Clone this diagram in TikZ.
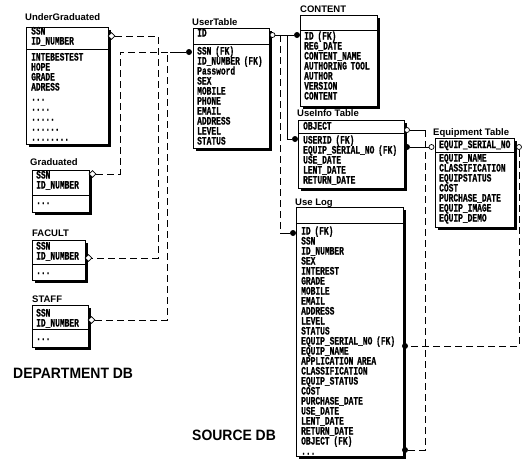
\documentclass[tikz,border=0pt]{standalone}
\usepackage{fontspec}
\setmainfont{Liberation Sans}
\newfontfamily\rowfont[FakeStretch=0.7, FakeBold=0.6]{Liberation Mono}
\newfontfamily\dbfont[FakeStretch=0.93]{Liberation Sans}
\usetikzlibrary{shapes.geometric, shadows}

\begin{document}
\begin{tikzpicture}[
    x=1pt, y=-1pt,
    tbl/.style={draw, fill=white, line width=0.8pt, anchor=north west, inner sep=0pt,
        drop shadow={shadow xshift=2.2pt, shadow yshift=-2.2pt, fill=black, opacity=1}},
    rows/.style={anchor=base west, inner sep=0pt, text width=110pt, align=left,
        font={\rowfont\bfseries\fontsize{11.3}{10}\selectfont\lineskiplimit=-10pt}},
    ttl/.style={anchor=base west, inner sep=0pt, font={\bfseries\fontsize{9.5}{10}\selectfont}},
    dblabel/.style={anchor=base west, inner sep=0pt, font={\dbfont\bfseries\fontsize{15}{15}\selectfont}},
    div/.style={line width=0.6pt},
    rel/.style={line width=0.8pt},
    drel/.style={rel, dash pattern=on 7pt off 4pt},
    one/.style={circle, draw, fill=white, line width=0.7pt, inner sep=0pt, minimum size=5pt},
    many/.style={circle, fill=black, inner sep=0pt, minimum size=6pt},
    dia/.style={diamond, draw, fill=white, line width=0.7pt, inner sep=0pt, minimum size=7pt}
]
\useasboundingbox (0,0) rectangle (530,459);

% Department DB
\node[ttl] (ugT) at (25,20.5) {UnderGraduated};
\node[tbl, minimum width=82pt, minimum height=117pt] (ug) at (26,27) {};
\node[rows] (ugH) at (31,34.5) {SSN\\ID\_NUMBER};
\draw[div] (ug.west |- 0,49) -- (ug.east |- 0,49);
\node[rows] (ugB) at (31,60.5) {INTEBESTEST\\HOPE\\GRADE\\ADRESS\\...\\....\\.....\\......\\........};

\node[ttl] (gradT) at (30,165.5) {Graduated};
\node[tbl, minimum width=57pt, minimum height=42pt] (grad) at (32,170) {};
\node[rows] (gradH) at (36,178.5) {SSN\\ID\_NUMBER};
\draw[div] (grad.west |- 0,195) -- (grad.east |- 0,195);
\node[rows] (gradB) at (36,204) {...};

\node[ttl] (facT) at (32,236.5) {FACULT};
\node[tbl, minimum width=53pt, minimum height=40pt] (fac) at (32,240) {};
\node[rows] (facH) at (36,249.5) {SSN\\ID\_NUMBER};
\draw[div] (fac.west |- 0,264) -- (fac.east |- 0,264);
\node[rows] (facB) at (36,274) {...};

\node[ttl] (staffT) at (32,302.5) {STAFF};
\node[tbl, minimum width=56pt, minimum height=42pt] (staff) at (32,305) {};
\node[rows] (staffH) at (36,316.5) {SSN\\ID\_NUMBER};
\draw[div] (staff.west |- 0,329.5) -- (staff.east |- 0,329.5);
\node[rows] (staffB) at (36,340) {...};

\node[dblabel] (deptdb) at (13,378) {DEPARTMENT DB};

% Source DB
\node[ttl] (utT) at (192,25.5) {UserTable};
\node[tbl, minimum width=76pt, minimum height=120pt] (ut) at (193,28) {};
\node[rows] (utH) at (197,36.5) {ID};
\draw[div] (ut.west |- 0,44) -- (ut.east |- 0,44);
\node[rows] (utB) at (197,54.5) {SSN (FK)\\ID\_NUMBER (FK)\\Password\\SEX\\MOBILE\\PHONE\\EMAIL\\ADDRESS\\LEVEL\\STATUS};

\node[ttl] (contT) at (300,12.5) {CONTENT};
\node[tbl, minimum width=77pt, minimum height=91pt] (cont) at (300,15) {};
\draw[div] (cont.west |- 0,30) -- (cont.east |- 0,30);
\node[rows] (contB) at (304,39.5) {ID (FK)\\REG\_DATE\\CONTENT\_NAME\\AUTHORING TOOL\\AUTHOR\\VERSION\\CONTENT};

\node[ttl] (uinfoT) at (297,116) {UseInfo Table};
\node[tbl, minimum width=106pt, minimum height=68pt] (uinfo) at (298,120) {};
\node[rows] (uinfoH) at (303,129.5) {OBJECT};
\draw[div] (uinfo.west |- 0,133.5) -- (uinfo.east |- 0,133.5);
\node[rows] (uinfoB) at (303,143.5) {USERID (FK)\\EQUIP\_SERIAL\_NO (FK)\\USE\_DATE\\LENT\_DATE\\RETURN\_DATE};

\node[ttl] (equipT) at (433,135.5) {Equipment Table};
\node[tbl, minimum width=79pt, minimum height=89pt] (equip) at (435,138) {};
\node[rows] (equipH) at (439,148) {EQUIP\_SERIAL\_NO};
\draw[div] (equip.west |- 0,152) -- (equip.east |- 0,152);
\node[rows] (equipB) at (439,161.5) {EQUIP\_NAME\\CLASSIFICATION\\EQUIPSTATUS\\COST\\PURCHASE\_DATE\\EQUIP\_IMAGE\\EQUIP\_DEMO};

\node[ttl] (ulogT) at (295,205.5) {Use Log};
\node[tbl, minimum width=107pt, minimum height=249pt] (ulog) at (296,207) {};
\draw[div] (ulog.west |- 0,223) -- (ulog.east |- 0,223);
\node[rows] (ulogB) at (301,234.5) {ID (FK)\\SSN\\ID\_NUMBER\\SEX\\INTEREST\\GRADE\\MOBILE\\EMAIL\\ADDRESS\\LEVEL\\STATUS\\EQUIP\_SERIAL\_NO (FK)\\EQUIP\_NAME\\APPLICATION AREA\\CLASSIFICATION\\EQUIP\_STATUS\\COST\\PURCHASE\_DATE\\USE\_DATE\\LENT\_DATE\\RETURN\_DATE\\OBJECT (FK)\\...};

\node[dblabel] (srcdb) at (192,440) {SOURCE DB};

% Relationship ends
\node[dia] (ugD) at (111.5,36) {};
\node[dia] (gradD) at (92.5,174) {};
\node[dia] (facD) at (88.5,258) {};
\node[dia] (staffD) at (91.5,320) {};
\node[many] (utL) at (189,52) {};
\node[one] (utR) at (272.5,35) {};
\node[many] (contL) at (297,35) {};
\node[many] (uinfoL) at (295,139) {};
\node[many] (ulogL) at (293,233) {};
\node[one] (uinfoR) at (407,130) {};
\node[many] (uinfoS) at (407,147) {};
\node[one] (equipL) at (431.5,147) {};
\node[one] (equipR) at (519,147) {};
\node[many] (ulogS) at (405,346) {};
\node[many] (ulogO) at (405,450) {};

\coordinate (j1) at (158,36);
\coordinate (j2) at (120,52);
\coordinate (j3) at (167,52);
\coordinate (j4) at (170,52);
\coordinate (j5) at (287,35);
\coordinate (j6) at (280,35);
\coordinate (j7) at (280,233);
\coordinate (j8) at (425,130);

% Connectors
\draw[drel] (ugD) -- (j1) |- (facD);
\draw[drel] (gradD) -| (j2) -- (j4);
\draw[rel] (j4) -- (utL);
\draw[drel] (staffD) -| (j3);
\draw[rel] (utR) -- (contL);
\draw[rel] (j5) |- (uinfoL);
\draw[drel] (j6) -- (j7);
\draw[rel] (j7) -- (ulogL);
\draw[rel] (uinfoR) -- (j8);
\draw[drel] (j8) |- (ulogO);
\draw[rel] (uinfoS) -- (equipL);
\draw[drel] (equipR) |- (ulogS);

\end{tikzpicture}
\end{document}
